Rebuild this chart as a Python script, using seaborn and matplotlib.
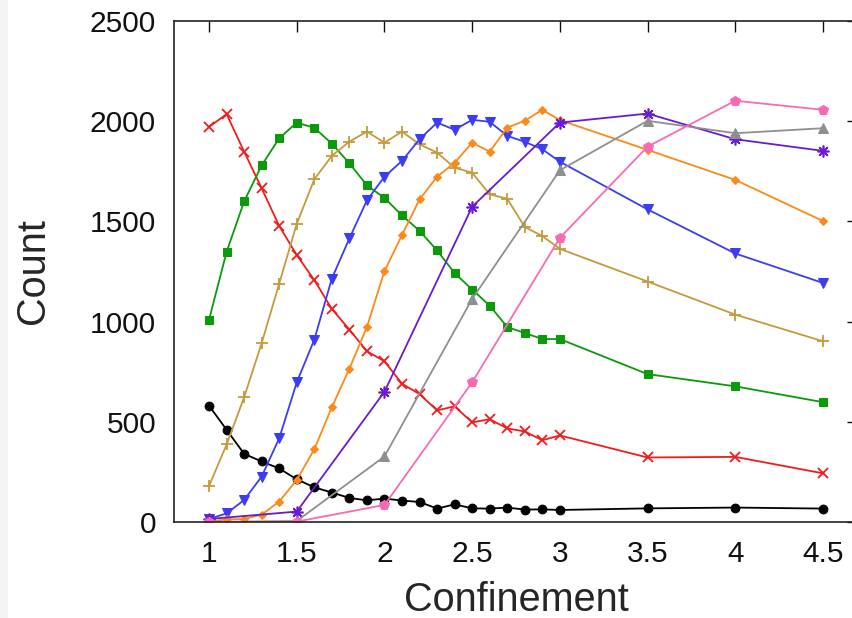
import matplotlib
matplotlib.use("Agg")
import matplotlib.pyplot as plt
from matplotlib.patches import Rectangle
import seaborn as sns

# Confinement values: dense sampling up to 3.0, then coarse steps
x_dense = [1.0, 1.1, 1.2, 1.3, 1.4, 1.5, 1.6, 1.7, 1.8, 1.9, 2.0,
           2.1, 2.2, 2.3, 2.4, 2.5, 2.6, 2.7, 2.8, 2.9, 3.0, 3.5, 4.0, 4.5]
x_sparse = [1.0, 1.5, 2.0, 2.5, 3.0, 3.5, 4.0, 4.5]

black_counts = [580, 460, 340, 302, 267, 213, 173, 147, 120, 108, 117,
                107, 100, 67, 88, 68, 67, 72, 62, 63, 60, 68, 72, 67]
red_counts = [1972, 2035, 1848, 1665, 1477, 1332, 1207, 1063, 960, 852, 802,
              690, 638, 557, 577, 497, 513, 467, 452, 408, 432, 322, 325, 243]
green_counts = [1010, 1348, 1600, 1780, 1915, 1993, 1967, 1888, 1790, 1680, 1617,
                1530, 1453, 1355, 1242, 1160, 1080, 973, 943, 913, 913, 738, 677, 598]
tan_counts = [180, 387, 623, 893, 1190, 1488, 1710, 1827, 1898, 1948, 1893,
              1948, 1885, 1843, 1768, 1743, 1635, 1613, 1472, 1427, 1363, 1200, 1035, 902]
blue_counts = [15, 43, 110, 227, 418, 697, 910, 1215, 1415, 1605, 1723,
               1802, 1910, 1993, 1957, 2007, 1997, 1927, 1897, 1860, 1798, 1560, 1340, 1193]
orange_counts = [2, 13, 15, 37, 102, 210, 363, 573, 765, 973, 1252,
                 1432, 1610, 1723, 1793, 1893, 1848, 1968, 2002, 2057, 2005, 1857, 1707, 1502]
purple_counts = [15, 52, 650, 1573, 1993, 2038, 1910, 1852]
gray_counts = [0, 5, 327, 1113, 1755, 2002, 1940, 1965]
pink_counts = [0, 2, 85, 697, 1418, 1873, 2102, 2057]

x_ticks = [1, 1.5, 2, 2.5, 3, 3.5, 4, 4.5]
x_tick_labels = ["1", "1.5", "2", "2.5", "3", "3.5", "4", "4.5"]
y_ticks = [0, 500, 1000, 1500, 2000, 2500]
y_tick_labels = ["0", "500", "1000", "1500", "2000", "2500"]

sns.set_style("white")
plt.rcParams["font.family"] = ["Liberation Sans", "DejaVu Sans"]

fig = plt.figure(figsize=(8.53, 6.18), dpi=100)
fig.patches.append(Rectangle((0, 0), 8 / 853, 1, transform=fig.transFigure,
                             facecolor="#f4f4f4", edgecolor="none", zorder=0))
ax = fig.add_axes([174 / 853, 1 - 522 / 618, 684 / 853, 501 / 618])

series = [
    (x_dense, black_counts, "#000000", "o", 6.3, {}),
    (x_dense, red_counts, "#f01c1c", "x", 7.5, {"markeredgewidth": 1.3}),
    (x_dense, green_counts, "#0a9a0a", "s", 6.0, {}),
    (x_dense, tan_counts, "#c49a3c", "+", 9.0, {"markeredgewidth": 1.3}),
    (x_dense, blue_counts, "#3c3cf5", "v", 7.0, {}),
    (x_dense, orange_counts, "#fb8a18", "D", 4.2, {}),
    (x_sparse, purple_counts, "#6a1ad0", (8, 2, 0), 8.5, {"markeredgewidth": 1.2}),
    (x_sparse, gray_counts, "#8f8f8f", "^", 7.0, {}),
    (x_sparse, pink_counts, "#f96ab2", "p", 7.0, {}),
]

for xs, ys, color, marker, msize, extra in series:
    sns.lineplot(x=xs, y=ys, ax=ax, color=color, marker=marker,
                 markersize=msize, linewidth=1.3, markeredgecolor=color,
                 markerfacecolor=color, sort=False, estimator=None, **extra)

ax.set_xlim(0.8, 4.7)
ax.set_ylim(0, 2500)
ax.set_xticks(x_ticks)
ax.set_xticklabels(x_tick_labels)
ax.set_yticks(y_ticks)
ax.set_yticklabels(y_tick_labels)

ax.tick_params(axis="both", which="major", direction="in", length=8, width=1.0,
               top=True, right=True, labelsize=21.5, colors="#111111")
ax.tick_params(axis="x", pad=13)
ax.tick_params(axis="y", pad=13)

for sp in ax.spines.values():
    sp.set_visible(True)
    sp.set_linewidth(1.2)
    sp.set_color("#222222")

ax.set_xlabel("Confinement", fontsize=28.5, labelpad=9)
ax.set_ylabel("Count", fontsize=28.5, labelpad=27)

fig.savefig("out.png", dpi=100)
